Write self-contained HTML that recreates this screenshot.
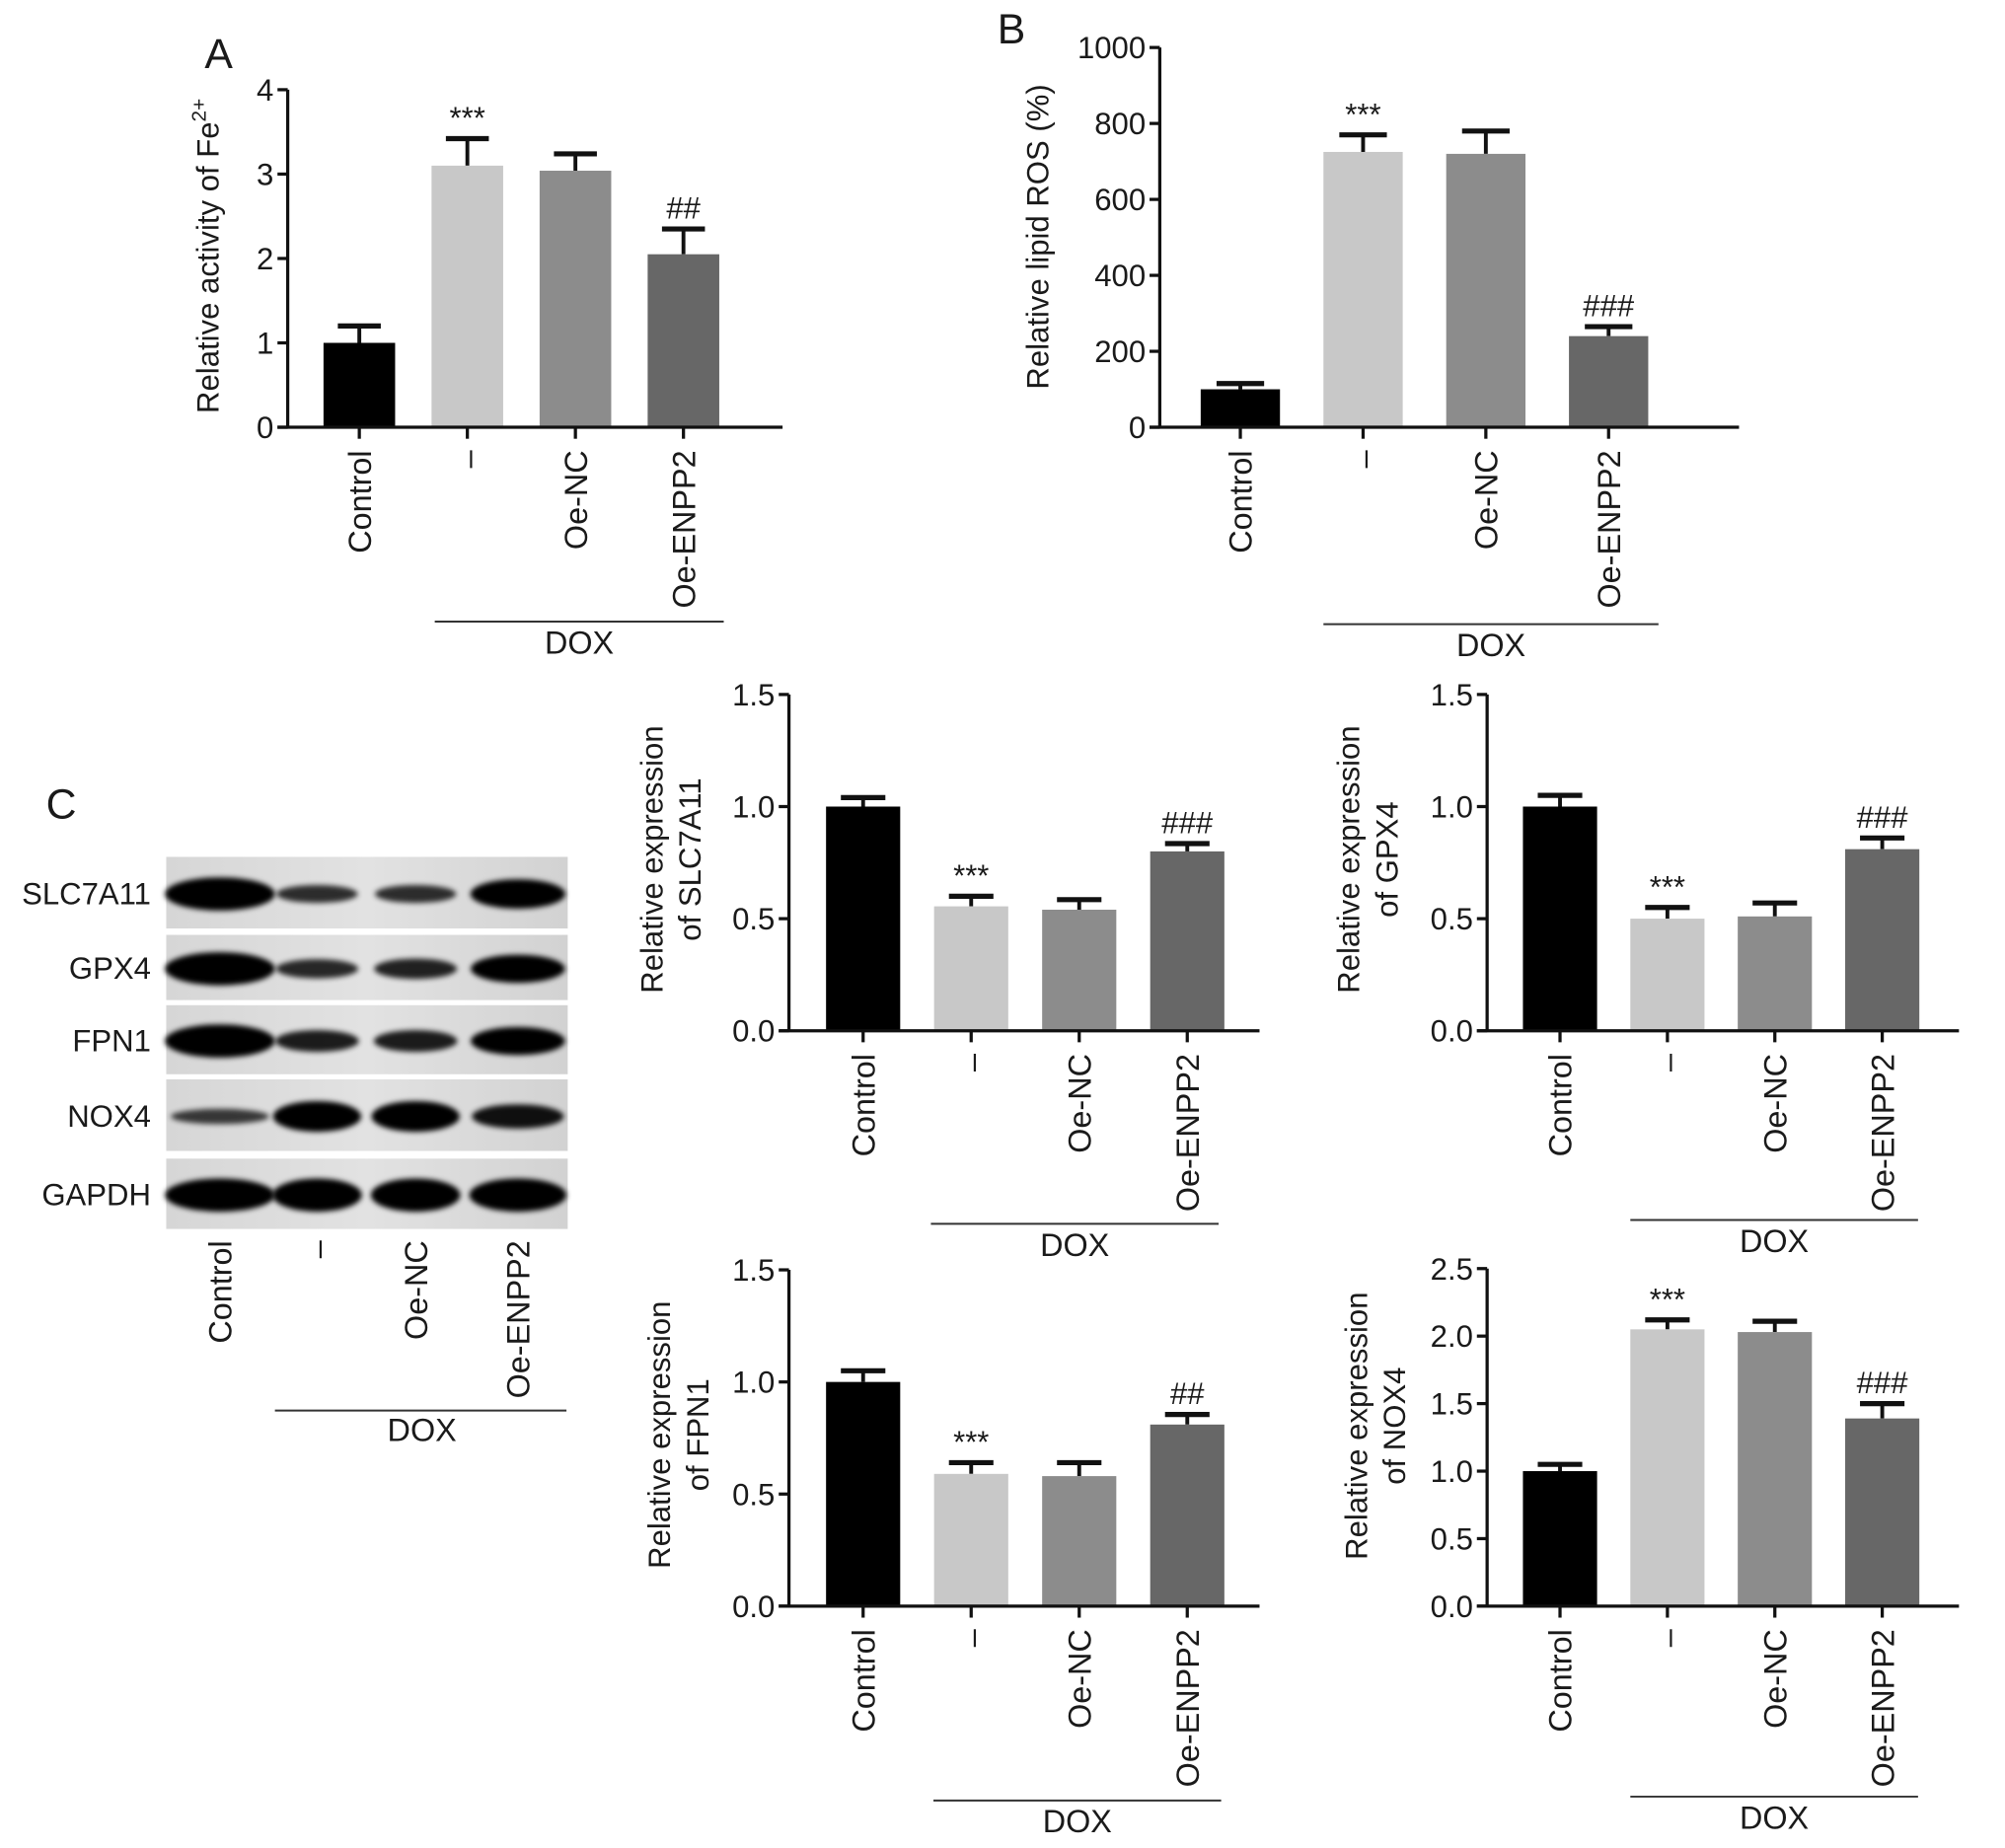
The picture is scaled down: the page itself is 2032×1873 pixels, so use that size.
<!DOCTYPE html>
<html><head><meta charset="utf-8">
<style>
html,body{margin:0;padding:0;background:#fff;}
svg{display:block;}
text{font-family:"Liberation Sans",Arial,sans-serif;fill:#1a1a1a;}
</style></head>
<body>
<svg id="fig" width="2032" height="1873" viewBox="0 0 1568 1445" xmlns="http://www.w3.org/2000/svg">
<defs>
<filter id="blur" x="-20%" y="-50%" width="140%" height="200%"><feGaussianBlur stdDeviation="2"/></filter>
<linearGradient id="blotbg" x1="0" x2="1" y1="0" y2="0"><stop offset="0" stop-color="#d6d6d6"/><stop offset="0.5" stop-color="#e2e2e2"/><stop offset="1" stop-color="#d2d2d2"/></linearGradient>
</defs>
<g id="root"></g>
</svg>
<script>
const categories = ["Control", "\u2013", "Oe-NC", "Oe-ENPP2"];
const barColors = ["#000000", "#c8c8c8", "#8c8c8c", "#676767"];

const feMeans = [1.0, 3.1, 3.04, 2.05];
const feErrs = [0.2, 0.32, 0.2, 0.3];
const feTicks = ["0", "1", "2", "3", "4"];
const feMarks = ["", "***", "", "##"];

const rosMeans = [100, 725, 720, 240];
const rosErrs = [15, 45, 60, 25];
const rosTicks = ["0", "200", "400", "600", "800", "1000"];
const rosMarks = ["", "***", "", "###"];

const slcMeans = [1.0, 0.555, 0.54, 0.8];
const slcErrs = [0.04, 0.045, 0.045, 0.035];
const gpxMeans = [1.0, 0.5, 0.51, 0.81];
const gpxErrs = [0.05, 0.05, 0.06, 0.05];
const fpnMeans = [1.0, 0.59, 0.58, 0.81];
const fpnErrs = [0.05, 0.05, 0.06, 0.045];
const noxMeans = [1.0, 2.05, 2.03, 1.39];
const noxErrs = [0.05, 0.07, 0.08, 0.11];
const ticks15 = ["0.0", "0.5", "1.0", "1.5"];
const ticks25 = ["0.0", "0.5", "1.0", "1.5", "2.0", "2.5"];
const slcMarks = ["", "***", "", "###"];
const gpxMarks = ["", "***", "", "###"];
const fpnMarks = ["", "***", "", "##"];
const noxMarks = ["", "***", "", "###"];

const blotProteins = ["SLC7A11", "GPX4", "FPN1", "NOX4", "GAPDH"];
const bandSLC = [1.0, 0.4, 0.4, 0.85];
const bandGPX = [1.0, 0.45, 0.5, 0.8];
const bandFPN = [1.0, 0.55, 0.55, 0.8];
const bandNOX = [0.3, 0.9, 0.9, 0.65];
const bandGAP = [1.0, 1.0, 1.0, 1.0];

const NS = "http://www.w3.org/2000/svg";
const root = document.getElementById('root');
function mk(tag, attrs, parent, txt){
  const e = document.createElementNS(NS, tag);
  for (const k in attrs) e.setAttribute(k, attrs[k]);
  if (txt !== undefined) e.textContent = txt;
  (parent || root).appendChild(e);
  return e;
}

function chart(o){
  const g = mk('g', {});
  
  
  const maxV = o.max;
  const y = v => o.y0 - (v / maxV) * (o.y0 - o.yTop);
  const n = o.means.length;
  const x = i => o.cx0 + i * o.step;
  o.means.forEach((m, i) => {
    const top = y(m + o.errs[i]);
    const eb = mk('g', {}, g);
    
    
    mk('line', {x1: x(i), x2: x(i), y1: y(m), y2: top, stroke: '#111', 'stroke-width': 3}, eb);
    mk('line', {x1: x(i) - o.bw * 0.3, x2: x(i) + o.bw * 0.3, y1: top, y2: top, stroke: '#111', 'stroke-width': 4}, eb);
    const r = mk('rect', {x: x(i) - o.bw / 2, y: y(m), width: o.bw, height: o.y0 - y(m), fill: barColors[i]}, g);
    
    
    if (o.marks[i]) {
      const t = mk('text', {x: x(i), y: top - 8, 'text-anchor': 'middle', 'font-size': 24}, g, o.marks[i]);
      
      
    }
  });
  const ax = mk('g', {stroke: '#111', 'stroke-width': 2.5, fill: 'none'}, g);
  
  
  mk('line', {x1: o.ax, x2: o.ax, y1: o.yTop, y2: o.y0}, ax);
  mk('line', {x1: o.ax - 8, x2: o.xEnd, y1: o.y0, y2: o.y0}, ax);
  o.ticks.forEach((t, k) => {
    const v = k * maxV / (o.ticks.length - 1);
    mk('line', {x1: o.ax - 8, x2: o.ax, y1: y(v), y2: y(v)}, ax);
    const tl = mk('text', {x: o.ax - 11, y: y(v) + 8.5, 'text-anchor': 'end', 'font-size': 24}, g, t);
    
    
  });
  for (let i = 0; i < n; i++) {
    mk('line', {x1: x(i), x2: x(i), y1: o.y0, y2: o.y0 + 9}, ax);
    const cl = mk('text', {transform: `translate(${x(i) + 9},${o.y0 + 18}) rotate(-90)`, 'text-anchor': 'end', 'font-size': 25}, g, categories[i]);
    
    
  }
  const yt = mk('text', {transform: `translate(${o.ylx},${o.yly}) rotate(-90)`, 'text-anchor': 'middle', 'font-size': 24}, g);
  
  
  o.ytitle.forEach((line, k) => {
    mk('tspan', {x: 0, dy: k === 0 ? 0 : 30}, yt, line);
  });
  if (o.sup) { mk('tspan', {dy: -10, 'font-size': 16}, yt, o.sup); }
  const d = mk('g', {}, g);
  
  
  mk('line', {x1: o.dx1, x2: o.dx2, y1: o.dy, y2: o.dy, stroke: '#333', 'stroke-width': 1.5}, d);
  mk('text', {x: (o.dx1 + o.dx2) / 2, y: o.dy + 25, 'text-anchor': 'middle', 'font-size': 25}, d, 'DOX');
}

function letter(t, x, y, name){
  const e = mk('text', {x: x, y: y, 'font-size': 33}, root, t);
  
  
}
letter('A', 160, 53, 'panel-label-a');
letter('B', 780, 34, 'panel-label-b');
letter('C', 36, 640, 'panel-label-c');

chart({name:'chart-fe2', means:feMeans, errs:feErrs, ticks:feTicks, marks:feMarks, max:4, ax:225, yTop:70, y0:334, xEnd:612, cx0:281, step:84.5, bw:56, ylx:171, yly:200, ytitle:['Relative activity of Fe'], sup:'2+', dx1:340, dx2:566, dy:486});
chart({name:'chart-lipid-ros', means:rosMeans, errs:rosErrs, ticks:rosTicks, marks:rosMarks, max:1000, ax:907, yTop:37, y0:334, xEnd:1360, cx0:970, step:96, bw:62, ylx:820, yly:185, ytitle:['Relative lipid ROS (%)'], dx1:1035, dx2:1297, dy:488});
chart({name:'chart-slc7a11', means:slcMeans, errs:slcErrs, ticks:ticks15, marks:slcMarks, max:1.5, ax:617, yTop:543, y0:806, xEnd:985, cx0:675, step:84.5, bw:58, ylx:518, yly:672, ytitle:['Relative expression','of SLC7A11'], dx1:728, dx2:953, dy:957});
chart({name:'chart-gpx4', means:gpxMeans, errs:gpxErrs, ticks:ticks15, marks:gpxMarks, max:1.5, ax:1163, yTop:543, y0:806, xEnd:1532, cx0:1220, step:84, bw:58, ylx:1063, yly:672, ytitle:['Relative expression','of GPX4'], dx1:1275, dx2:1500, dy:954});
chart({name:'chart-fpn1', means:fpnMeans, errs:fpnErrs, ticks:ticks15, marks:fpnMarks, max:1.5, ax:617, yTop:993, y0:1256, xEnd:985, cx0:675, step:84.5, bw:58, ylx:524, yly:1122, ytitle:['Relative expression','of FPN1'], dx1:730, dx2:955, dy:1408});
chart({name:'chart-nox4', means:noxMeans, errs:noxErrs, ticks:ticks25, marks:noxMarks, max:2.5, ax:1163, yTop:992, y0:1256, xEnd:1532, cx0:1220, step:84, bw:58, ylx:1069, yly:1115, ytitle:['Relative expression','of NOX4'], dx1:1275, dx2:1500, dy:1405});

const blotRows = [[670,726,bandSLC],[731,782,bandGPX],[786,840,bandFPN],[844,900,bandNOX],[906,961,bandGAP]];
const laneX = [172, 248, 325, 405];
const laneW = [86, 70, 70, 76];
const blot = mk('g', {});


blotRows.forEach((r, ri) => {
  const [y1, y2, inten] = r;
  const strip = mk('g', {}, blot);
  
  
  mk('rect', {x: 130, y: y1, width: 314, height: y2 - y1, fill: 'url(#blotbg)'}, strip);
  const cy = (y1 + y2) / 2 + 1;
  inten.forEach((v, li) => {
    const b = mk('ellipse', {cx: laneX[li], cy: cy, rx: laneW[li] / 2 * (0.85 + 0.15 * v), ry: 3 + 10 * v, fill: '#000', opacity: Math.min(1, 0.6 + 0.5 * v), filter: 'url(#blur)'}, strip);
    
    
  });
  const lab = mk('text', {x: 118, y: cy + 8, 'text-anchor': 'end', 'font-size': 24}, blot, blotProteins[ri]);
  
  
});
laneX.forEach((lx, i) => {
  const cl = mk('text', {transform: `translate(${lx + 9},${970}) rotate(-90)`, 'text-anchor': 'end', 'font-size': 25}, blot, categories[i]);
  
  
});
const bd = mk('g', {}, blot);


mk('line', {x1: 215, x2: 443, y1: 1103, y2: 1103, stroke: '#333', 'stroke-width': 1.5}, bd);
mk('text', {x: 330, y: 1127, 'text-anchor': 'middle', 'font-size': 25}, bd, 'DOX');
</script>
</body></html>
